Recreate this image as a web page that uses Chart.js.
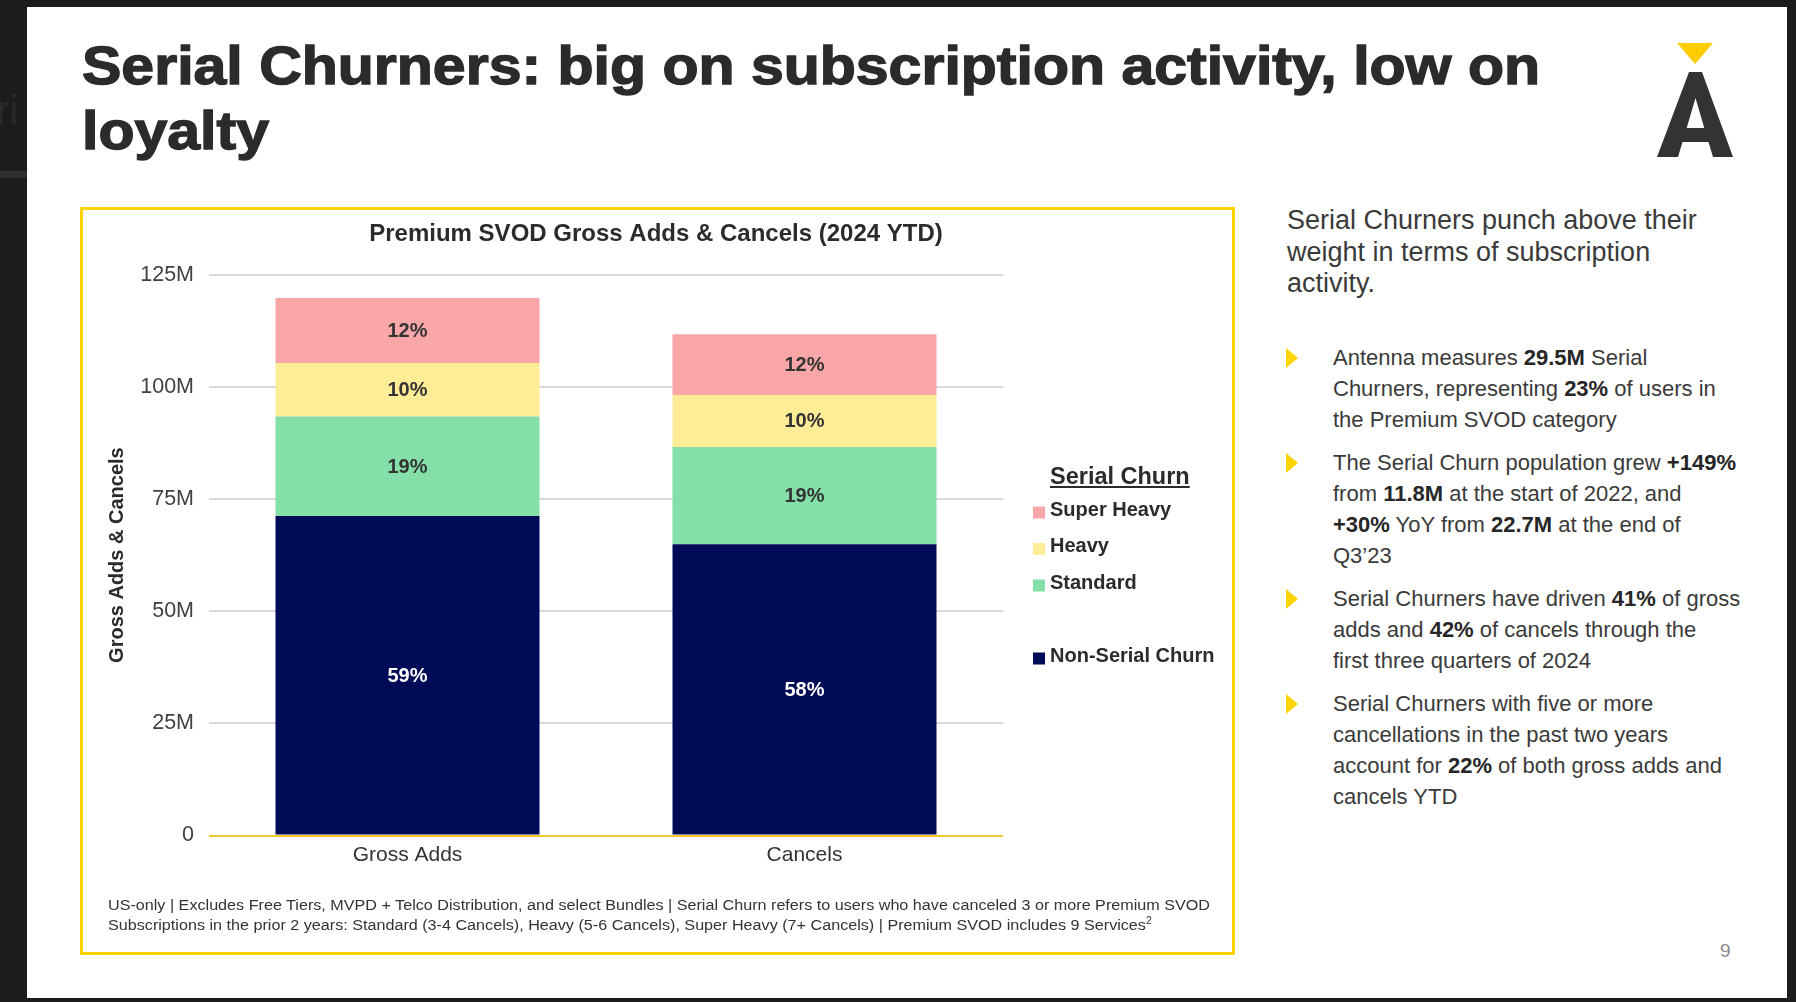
<!DOCTYPE html>
<html>
<head>
<meta charset="utf-8">
<script src="https://cdn.jsdelivr.net/npm/chart.js@4.4.1/dist/chart.umd.min.js"></script>
<style>
  html, body { margin: 0; padding: 0; }
  body { width: 1796px; height: 1002px; background: #1c1c1c; position: relative; overflow: hidden;
         font-family: "Liberation Sans", Arial, sans-serif; }
  .abs { position: absolute; }
  #slide { left: 27px; top: 7px; width: 1760px; height: 991px; background: #ffffff; }
  .title { left: 82px; font-weight: bold; font-size: 54px; line-height: 65px; color: #2b2b2b;
           white-space: nowrap; transform-origin: 0 50%; -webkit-text-stroke: 1.4px #2b2b2b; }
  #frame { left: 80px; top: 207px; width: 1155px; height: 748px; border: 3.5px solid #FFD400; box-sizing: border-box; }
  #chartBox { left: 84px; top: 211px; width: 1147px; height: 740px; }
  #foot { left: 108px; top: 894.5px; font-size: 15.5px; line-height: 20px; color: #333; white-space: nowrap; }
  #foot div { transform-origin: 0 50%; }
  #foot sup { font-size: 10px; vertical-align: 6px; line-height: 0; }
  #heading { left: 1287px; top: 205px; font-size: 27px; line-height: 31.5px; color: #3a3a3a; white-space: nowrap; }
  #bullets { left: 1333px; top: 342.4px; font-size: 22px; line-height: 31px; color: #3a3a3a; white-space: nowrap; }
  #bullets .b { position: relative; margin-bottom: 12px; }
  #bullets .b::before { content: ""; position: absolute; left: -47px; top: 6px; width: 0; height: 0;
        border-top: 10px solid transparent; border-bottom: 10px solid transparent; border-left: 12px solid #FFD400; }
  #bullets b { color: #262626; }
  #pnum { left: 1720px; top: 940px; font-size: 19px; color: #8a8a8a; }
</style>
</head>
<body>
<div class="abs" style="left:0;top:171px;width:27px;height:7px;background:#2f2f2f;"></div>
<div class="abs" style="left:-4px;top:88px;font-size:40px;color:#2a2a2a;">ri</div>
<div id="slide" class="abs"></div>

<div id="t1" class="abs title" style="top:32.8px;">Serial Churners: big on subscription activity, low on</div>
<div id="t2" class="abs title" style="top:97.8px;">loyalty</div>

<svg class="abs" style="left:0;top:0;" width="1796" height="1002">
  <polygon points="1677,43 1713,43 1695,64" fill="#FFCC00"/>
  <path fill="#333333" fill-rule="evenodd"
        d="M1689,72 L1702,72 L1733,157 L1713,157 L1708.5,142 L1682.5,142 L1678,157 L1657,157 Z M1695.5,98 L1704.3,128 L1686.7,128 Z"/>
</svg>

<div id="frame" class="abs"></div>
<div id="chartBox" class="abs"><canvas id="c" width="1147" height="740"></canvas></div>

<div id="foot" class="abs">
  <div id="f1">US-only | Excludes Free Tiers, MVPD + Telco Distribution, and select Bundles | Serial Churn refers to users who have canceled 3 or more Premium SVOD</div>
  <div id="f2">Subscriptions in the prior 2 years: Standard (3-4 Cancels), Heavy (5-6 Cancels), Super Heavy (7+ Cancels) | Premium SVOD includes 9 Services<sup>2</sup></div>
</div>

<div id="heading" class="abs">Serial Churners punch above their<br>weight in terms of subscription<br>activity.</div>

<div id="bullets" class="abs">
  <div class="b">Antenna measures <b>29.5M</b> Serial<br>Churners, representing <b>23%</b> of users in<br>the Premium SVOD category</div>
  <div class="b">The Serial Churn population grew <b>+149%</b><br>from <b>11.8M</b> at the start of 2022, and<br><b>+30%</b> YoY from <b>22.7M</b> at the end of<br>Q3’23</div>
  <div class="b">Serial Churners have driven <b>41%</b> of gross<br>adds and <b>42%</b> of cancels through the<br>first three quarters of 2024</div>
  <div class="b">Serial Churners with five or more<br>cancellations in the past two years<br>account for <b>22%</b> of both gross adds and<br>cancels YTD</div>
</div>

<div id="pnum" class="abs">9</div>

<script>
// ---------- data ----------
const categories = ['Gross Adds', 'Cancels'];
const nonSerialChurn = [71.2, 64.9];   // millions
const standardChurn  = [22.2, 21.7];
const heavyChurn     = [11.9, 11.6];
const superHeavyChurn= [14.5, 13.5];
const nonSerialPct   = ['59%', '58%'];
const standardPct    = ['19%', '19%'];
const heavyPct       = ['10%', '10%'];
const superHeavyPct  = ['12%', '12%'];
const yTickLabels    = ['0', '25M', '50M', '75M', '100M', '125M'];
const chartTitle     = 'Premium SVOD Gross Adds & Cancels (2024 YTD)';
const yAxisTitle     = 'Gross Adds & Cancels';
const legendTitle    = 'Serial Churn';

// ---------- fit text widths ----------
function fitWidth(el, target) {
  const w = el.getBoundingClientRect().width;
  if (w > 0) el.style.transform = 'scaleX(' + (target / w) + ')';
  return target / w;
}
const s = fitWidth(document.getElementById('t1'), 1458);
document.getElementById('t2').style.transform = 'scaleX(' + s + ')';
const sf = fitWidth(document.getElementById('f1'), 1102);
document.getElementById('f2').style.transform = 'scaleX(' + sf + ')';

// ---------- plugins ----------
const FONT = '"Liberation Sans", Arial, sans-serif';

const titlePlugin = {
  id: 'topTitle',
  afterDraw(chart) {
    const ctx = chart.ctx;
    ctx.save();
    ctx.font = 'bold 24px ' + FONT;
    ctx.fillStyle = '#2b2b2b';
    ctx.textAlign = 'center';
    ctx.textBaseline = 'middle';
    ctx.fillText(chartTitle, chart.width / 2 - 1.5, chart.chartArea.top - 40.5);
    ctx.restore();
  }
};

const labelPlugin = {
  id: 'segLabels',
  afterDatasetsDraw(chart) {
    const ctx = chart.ctx;
    ctx.save();
    ctx.font = 'bold 20px ' + FONT;
    ctx.textAlign = 'center';
    ctx.textBaseline = 'middle';
    chart.data.datasets.forEach((ds, i) => {
      const meta = chart.getDatasetMeta(i);
      meta.data.forEach((bar, j) => {
        const p = bar.getProps(['x', 'y', 'base'], true);
        ctx.fillStyle = ds.labelColor;
        ctx.fillText(ds.segLabels[j], p.x, (p.y + p.base) / 2 + 1);
      });
    });
    ctx.restore();
  }
};

const legendPlugin = {
  id: 'sideLegend',
  afterDraw(chart) {
    const ctx = chart.ctx;
    const area = chart.chartArea;
    const tx = area.right + 47;
    const sx = area.right + 30;
    ctx.save();
    ctx.fillStyle = '#2b2b2b';
    ctx.strokeStyle = '#2b2b2b';
    ctx.textAlign = 'left';
    ctx.textBaseline = 'alphabetic';
    ctx.font = 'bold 23.5px ' + FONT;
    const tb = area.top + 209.3;
    ctx.fillText(legendTitle, tx, tb);
    const tw = ctx.measureText(legendTitle).width;
    ctx.lineWidth = 2;
    ctx.beginPath();
    ctx.moveTo(tx, tb + 3);
    ctx.lineTo(tx + tw, tb + 3);
    ctx.stroke();
    ctx.font = 'bold 20px ' + FONT;
    const order = [3, 2, 1, null, 0];
    let b = area.top + 240.8;
    order.forEach(idx => {
      if (idx !== null) {
        const ds = chart.data.datasets[idx];
        ctx.fillStyle = ds.backgroundColor;
        ctx.fillRect(sx, b - 9, 12, 12);
        ctx.fillStyle = '#2b2b2b';
        ctx.fillText(ds.label, tx, b);
      }
      b += 36.5;
    });
    ctx.restore();
  }
};

// ---------- chart ----------
new Chart(document.getElementById('c'), {
  type: 'bar',
  data: {
    labels: categories,
    datasets: [
      { label: 'Non-Serial Churn', data: nonSerialChurn, backgroundColor: '#000B57', segLabels: nonSerialPct, labelColor: '#ffffff' },
      { label: 'Standard', data: standardChurn, backgroundColor: '#84E0A8', segLabels: standardPct, labelColor: '#333333' },
      { label: 'Heavy', data: heavyChurn, backgroundColor: '#FFEC96', segLabels: heavyPct, labelColor: '#333333' },
      { label: 'Super Heavy', data: superHeavyChurn, backgroundColor: '#F9A6A8', segLabels: superHeavyPct, labelColor: '#333333' }
    ]
  },
  options: {
    responsive: false,
    animation: false,
    devicePixelRatio: 1,
    layout: { padding: { left: 0, right: 228, top: 63.7, bottom: 0 } },
    datasets: { bar: { categoryPercentage: 1, barPercentage: 0.665, borderWidth: 0 } },
    plugins: {
      legend: { display: false },
      tooltip: { enabled: false },
      title: { display: false }
    },
    scales: {
      x: {
        stacked: true,
        grid: { display: false, drawTicks: false },
        border: { display: false },
        ticks: { color: '#333333', padding: 7, font: { family: FONT, size: 21 } },
        afterFit(scale) { scale.height = 115.5; }
      },
      y: {
        stacked: true,
        min: 0, max: 125,
        grid: {
          drawTicks: false,
          lineWidth: 2,
          color: (c) => (c.tick && c.tick.value === 0) ? '#F2C82E' : '#D9D9D9'
        },
        border: { display: false },
        ticks: {
          stepSize: 25, padding: 15, color: '#404040',
          font: { family: FONT, size: 21.5 },
          callback: (v) => yTickLabels[Math.round(v / 25)]
        },
        title: {
          display: true, text: yAxisTitle, color: '#2b2b2b',
          font: { family: FONT, size: 20, weight: 'bold' },
          padding: { top: 21, bottom: 0 }
        },
        afterFit(scale) { scale.width = 125; }
      }
    }
  },
  plugins: [titlePlugin, labelPlugin, legendPlugin]
});
</script>
</body>
</html>
